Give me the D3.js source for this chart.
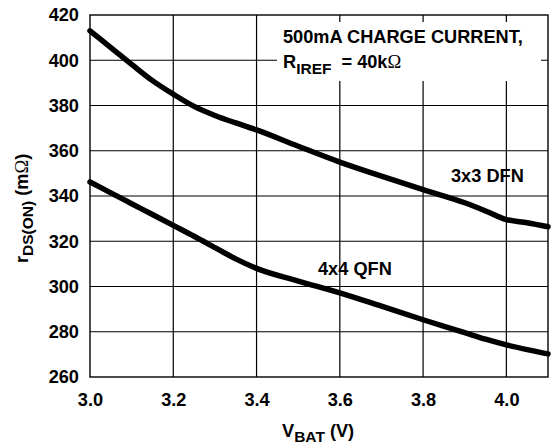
<!DOCTYPE html>
<html><head><meta charset="utf-8">
<script src="https://cdn.jsdelivr.net/npm/d3@7"></script>
<style>
html,body{margin:0;padding:0;background:#fff;}
svg text{font-family:"Liberation Sans",Arial,sans-serif;font-weight:bold;fill:#000;}
</style></head>
<body>
<script>
const xTicks = [3.0, 3.2, 3.4, 3.6, 3.8, 4.0];
const yTicks = [260, 280, 300, 320, 340, 360, 380, 400, 420];
const vbat = [3.0, 3.05, 3.1, 3.15, 3.2, 3.25, 3.3, 3.35, 3.4, 3.5, 3.6, 3.7, 3.8, 3.9, 3.95, 4.0, 4.05, 4.1];
const dfn3x3 = [413, 405.6, 398.2, 391, 385, 379.6, 375.6, 372.3, 369.2, 362, 355, 348.8, 342.8, 337, 333.4, 329.6, 328.2, 326.4];
const qfn4x4 = [346.2, 341.4, 336.6, 331.8, 327, 322.2, 317.2, 312.2, 308, 302.4, 297.2, 291.3, 285.3, 279.6, 276.7, 274.2, 272.1, 270.2];
const seriesLabels = ["3x3 DFN", "4x4 QFN"];

const W = 556, H = 447;
const FS = 18.2;
const svg = d3.select("body").append("svg").attr("width", W).attr("height", H);
const x = d3.scaleLinear().domain([3.0, 4.1]).range([90, 548]);
const y = d3.scaleLinear().domain([260, 420]).range([377, 15]);

// grid
const g = svg.append("g");
g.selectAll(".vg").data(xTicks.slice(1)).enter().append("line")
  .attr("x1", d => x(d)).attr("x2", d => x(d)).attr("y1", y(420)).attr("y2", y(260))
  .attr("stroke", "#000").attr("stroke-width", 1.2);
g.selectAll(".hg").data(yTicks.slice(1, -1)).enter().append("line")
  .attr("x1", x(3.0)).attr("x2", x(4.1)).attr("y1", d => y(d)).attr("y2", d => y(d))
  .attr("stroke", "#000").attr("stroke-width", 1.2);
// frame
svg.append("rect").attr("x", x(3.0)).attr("y", y(420)).attr("width", x(4.1) - x(3.0)).attr("height", y(260) - y(420))
  .attr("fill", "none").attr("stroke", "#000").attr("stroke-width", 1.4);

// axes labels
const xAxis = d3.axisBottom(x).tickValues(xTicks).tickFormat(d3.format(".1f")).tickSize(0).tickPadding(0);
const xa = svg.append("g").attr("transform", `translate(0,${y(260)})`).call(xAxis);
xa.select(".domain").remove();
xa.selectAll("text").attr("font-size", FS).attr("dy", null).attr("y", 29).attr("font-family", "Liberation Sans, Arial").attr("font-weight", "bold").attr("fill", "#000");
const yAxis = d3.axisLeft(y).tickValues(yTicks).tickFormat(d3.format("d")).tickSize(0).tickPadding(11);
const ya = svg.append("g").attr("transform", `translate(${x(3.0)},0)`).call(yAxis);
ya.select(".domain").remove();
ya.selectAll("text").attr("font-size", FS).attr("font-family", "Liberation Sans, Arial").attr("font-weight", "bold").attr("fill", "#000");

// annotation box
svg.append("rect").attr("x", 277).attr("y", 22).attr("width", 264).attr("height", 59).attr("fill", "#fff");
svg.append("text").attr("x", 283).attr("y", 43).attr("font-size", FS).text("500mA CHARGE CURRENT,");
const t2 = svg.append("text").attr("x", 283).attr("y", 68).attr("font-size", FS);
t2.append("tspan").text("R");
t2.append("tspan").attr("dy", 6).attr("font-size", 15.5).text("IREF");
t2.append("tspan").attr("dy", -6).attr("dx", 10).text("= 40k");
t2.append("tspan").attr("font-weight", "normal").attr("font-family", "Liberation Serif, DejaVu Serif, serif").attr("font-size", 18.5).text("Ω");

// curves
const line = d3.line().x((d, i) => x(vbat[i])).y(d => y(d)).curve(d3.curveMonotoneX);
[dfn3x3, qfn4x4].forEach(s => {
  svg.append("path").attr("d", line(s)).attr("fill", "none").attr("stroke", "#000")
    .attr("stroke-width", 5.5).attr("stroke-linecap", "round").attr("stroke-linejoin", "round");
});
svg.append("text").attr("x", 451).attr("y", 182).attr("font-size", FS).text(seriesLabels[0]);
svg.append("text").attr("x", 318).attr("y", 275).attr("font-size", FS).text(seriesLabels[1]);

// axis titles
const xt = svg.append("text").attr("x", 282).attr("y", 437).attr("font-size", FS);
xt.append("tspan").text("V");
xt.append("tspan").attr("dy", 5).attr("font-size", 15.5).text("BAT");
xt.append("tspan").attr("dy", -5).text(" (V)");

const yt = svg.append("text").attr("transform", "translate(28,263) rotate(-90)").attr("font-size", FS);
yt.append("tspan").text("r");
yt.append("tspan").attr("dy", 5).attr("font-size", 15.5).text("DS(ON)");
yt.append("tspan").attr("dy", -5).text(" (m");
yt.append("tspan").attr("font-weight", "normal").attr("font-family", "Liberation Serif, DejaVu Serif, serif").attr("font-size", 18.5).text("Ω");
yt.append("tspan").text(")");
</script>
</body></html>
